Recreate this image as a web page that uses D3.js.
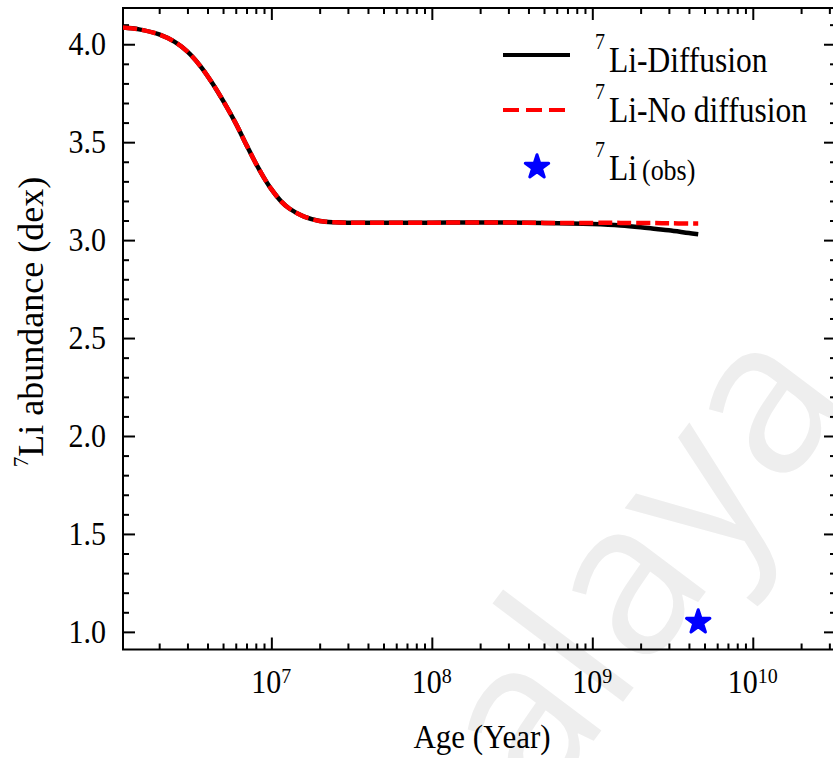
<!DOCTYPE html>
<html>
<head>
<meta charset="utf-8">
<script src="https://cdn.jsdelivr.net/npm/d3@7"></script>
<style>
  body { margin: 0; background: #fff; }
  svg { display: block; }
</style>
</head>
<body>
<svg id="chart" width="833" height="758"></svg>
<script>
// Stellar age grid (years) of the solar model tracks
const ages = [1.19e6, 1.5e6, 2e6, 2.5e6, 3e6, 3.6e6, 4.3e6, 5e6, 6e6, 7e6, 8e6, 9e6,
  1e7, 1.15e7, 1.3e7, 1.6e7, 2e7, 2.5e7, 3e7, 5e7, 1e8, 2e8, 3e8, 5e8,
  1e9, 1.5e9, 2e9, 2.5e9, 3e9, 4e9, 4.57e9];
// Surface 7Li abundance (dex), model with microscopic diffusion
const liDiffusion = [4.085, 4.076, 4.050, 4.012, 3.962, 3.890, 3.800, 3.712, 3.596, 3.485, 3.392, 3.318,
  3.260, 3.198, 3.160, 3.120, 3.098, 3.091, 3.089, 3.089, 3.089, 3.090, 3.090, 3.088,
  3.082, 3.075, 3.066, 3.057, 3.050, 3.036, 3.030];
// Surface 7Li abundance (dex), model without diffusion
const liNoDiffusion = [4.085, 4.076, 4.050, 4.012, 3.962, 3.890, 3.800, 3.712, 3.596, 3.485, 3.392, 3.318,
  3.260, 3.198, 3.160, 3.120, 3.098, 3.091, 3.089, 3.089, 3.089, 3.090, 3.090, 3.088,
  3.088, 3.088, 3.087, 3.087, 3.086, 3.085, 3.085];
// Observed photospheric value of the Sun
const obsAge = [4.57e9];
const obsLi = [1.05];

const xMajorExponents = [7, 8, 9, 10];
const yTickValues = [1.0, 1.5, 2.0, 2.5, 3.0, 3.5, 4.0];
const yTickLabels = ["1.0", "1.5", "2.0", "2.5", "3.0", "3.5", "4.0"];
const legendLabels = ["Li-Diffusion", "Li-No diffusion", "Li"];

const SERIF = "'Liberation Serif', 'Times New Roman', serif";
const svg = d3.select("#chart");

// faint repository watermark behind the plot
svg.append("text")
  .attr("transform", "translate(540,812) rotate(-53)")
  .attr("font-family", "'Open Sans', sans-serif")
  .attr("font-size", 215)
  .attr("fill", "#eeeeee")
  .text("alaya");

const plotLeft = 123, plotRight = 836, plotTop = 8, plotBottom = 649.5;

const x = d3.scaleLog().domain([1.19e6, 3.3e10]).range([plotLeft, plotRight]);
const y = d3.scaleLinear().domain([0.91, 4.185]).range([plotBottom, plotTop]);

const majorX = xMajorExponents.map(e => Math.pow(10, e));
const minorX = x.ticks().filter(v => !majorX.some(m => Math.abs(v - m) / m < 1e-6));
const minorY = y.ticks(33).filter(v => !yTickValues.some(t => Math.abs(v - t) < 1e-6));

const majorLen = 12, minorLen = 6;

function styleAxis(g) {
  g.select(".domain").remove();
  g.selectAll(".tick line").attr("stroke", "#000").attr("stroke-width", 2);
  g.selectAll(".tick text").remove();
}

// inward ticks on all four sides
[[majorX, majorLen], [minorX, minorLen]].forEach(([vals, len]) => {
  svg.append("g").attr("transform", `translate(0,${plotBottom})`)
    .call(d3.axisBottom(x).tickValues(vals).tickSize(-len).tickFormat(""))
    .call(styleAxis);
  svg.append("g").attr("transform", `translate(0,${plotTop})`)
    .call(d3.axisTop(x).tickValues(vals).tickSize(-len).tickFormat(""))
    .call(styleAxis);
});
[[yTickValues, majorLen], [minorY, minorLen]].forEach(([vals, len]) => {
  svg.append("g").attr("transform", `translate(${plotLeft},0)`)
    .call(d3.axisLeft(y).tickValues(vals).tickSize(-len).tickFormat(""))
    .call(styleAxis);
  svg.append("g").attr("transform", `translate(${plotRight},0)`)
    .call(d3.axisRight(y).tickValues(vals).tickSize(-len).tickFormat(""))
    .call(styleAxis);
});

// frame
svg.append("rect")
  .attr("x", plotLeft).attr("y", plotTop)
  .attr("width", plotRight - plotLeft).attr("height", plotBottom - plotTop)
  .attr("fill", "none").attr("stroke", "#000").attr("stroke-width", 2);

// clip for curves
svg.append("clipPath").attr("id", "plotClip")
  .append("rect").attr("x", plotLeft).attr("y", plotTop)
  .attr("width", plotRight - plotLeft).attr("height", plotBottom - plotTop);

const line = d3.line()
  .x(d => x(d[0])).y(d => y(d[1]))
  .curve(d3.curveCatmullRom.alpha(0.5));

const plot = svg.append("g").attr("clip-path", "url(#plotClip)");
plot.append("path")
  .datum(ages.map((a, i) => [a, liDiffusion[i]]))
  .attr("d", line)
  .attr("fill", "none").attr("stroke", "#000").attr("stroke-width", 4.5);
plot.append("path")
  .datum(ages.map((a, i) => [a, liNoDiffusion[i]]))
  .attr("d", line)
  .attr("fill", "none").attr("stroke", "#ff0000").attr("stroke-width", 4.5)
  .attr("stroke-dasharray", "14,5");

const star = d3.symbol().type(d3.symbolStar).size(170);
plot.selectAll(".obs")
  .data(obsAge.map((a, i) => [a, obsLi[i]]))
  .join("path")
  .attr("class", "obs")
  .attr("transform", d => `translate(${x(d[0])},${y(d[1])})`)
  .attr("d", star)
  .attr("fill", "#0000ff").attr("stroke", "#0000ff")
  .attr("stroke-width", 3).attr("stroke-linejoin", "round");

// y tick labels
yTickValues.forEach((v, i) => {
  svg.append("text")
    .attr("transform", `translate(106,${y(v) + 11}) scale(1,1.1)`)
    .attr("text-anchor", "end")
    .attr("font-family", SERIF).attr("font-size", 30)
    .text(yTickLabels[i]);
});

// x tick labels as powers of ten
xMajorExponents.forEach(e => {
  const t = svg.append("text")
    .attr("transform", `translate(${x(Math.pow(10, e))},693) scale(1,1.1)`)
    .attr("text-anchor", "middle")
    .attr("font-family", SERIF).attr("font-size", 30);
  t.append("tspan").text("10");
  t.append("tspan").attr("font-size", 20).attr("dy", -9).text(String(e));
});

// axis titles
svg.append("text")
  .attr("transform", "translate(482,748) scale(1,1.12)")
  .attr("text-anchor", "middle")
  .attr("font-family", SERIF).attr("font-size", 31)
  .text("Age (Year)");

const yl = svg.append("text")
  .attr("transform", "translate(43,322) rotate(-90)")
  .attr("text-anchor", "middle")
  .attr("font-family", SERIF).attr("font-size", 36);
yl.append("tspan").attr("font-size", 21).attr("dy", -15).text("7");
yl.append("tspan").attr("dy", 15).text("Li abundance (dex)");

// legend
const legendRows = [
  { y: 55, base: 72 },
  { y: 110, base: 122 },
  { y: 167, base: 180 }
];
svg.append("line")
  .attr("x1", 503).attr("x2", 570).attr("y1", legendRows[0].y).attr("y2", legendRows[0].y)
  .attr("stroke", "#000").attr("stroke-width", 4);
svg.append("line")
  .attr("x1", 503).attr("x2", 568).attr("y1", legendRows[1].y).attr("y2", legendRows[1].y)
  .attr("stroke", "#ff0000").attr("stroke-width", 4).attr("stroke-dasharray", "16,7");
svg.append("path")
  .attr("transform", `translate(537,${legendRows[2].y})`)
  .attr("d", star)
  .attr("fill", "#0000ff").attr("stroke", "#0000ff")
  .attr("stroke-width", 3).attr("stroke-linejoin", "round");

legendLabels.forEach((lab, i) => {
  const t = svg.append("text")
    .attr("transform", `translate(595,${legendRows[i].base}) scale(1,1.14)`)
    .attr("font-family", SERIF).attr("font-size", 31.5);
  t.append("tspan").attr("font-size", 20).attr("dy", -20).text("7");
  t.append("tspan").attr("dx", 4).attr("dy", 20).text(lab);
  if (i === 2) {
    t.append("tspan").attr("font-size", 26).attr("dx", 5).text("(obs)");
  }
});
</script>
</body>
</html>
